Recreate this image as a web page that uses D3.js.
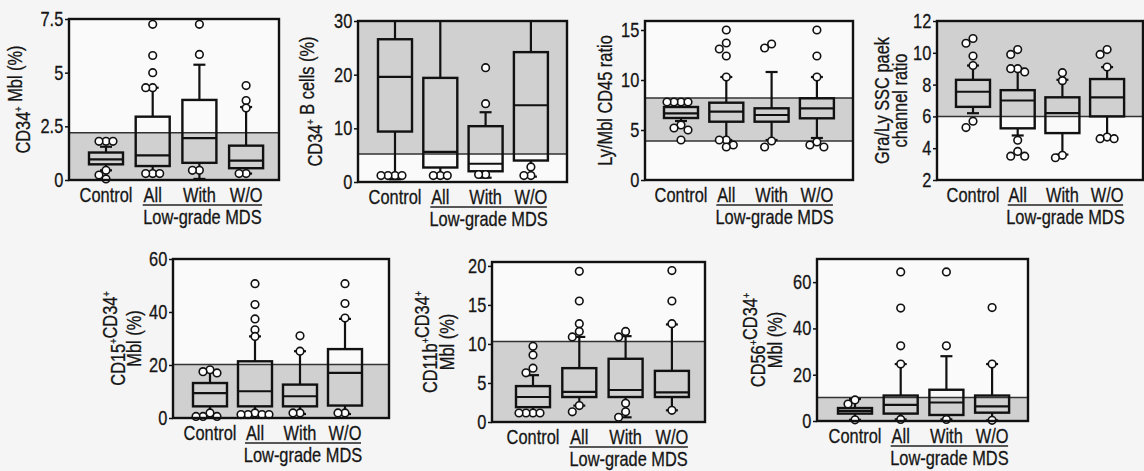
<!DOCTYPE html>
<html>
<head>
<meta charset="utf-8">
<script src="https://cdn.jsdelivr.net/npm/d3@7"></script>
<style>
  body { margin: 0; background: #f5f5f5; }
  svg { display: block; }
  text { font-family: "Liberation Sans Narrow", "Arial Narrow", "Liberation Sans", Arial, sans-serif; fill: #151515; stroke: #151515; stroke-width: 0.3px; }
</style>
</head>
<body>
<div id="fig"></div>
<script>
// categories shared by every panel
const CATEGORIES = ["Control", "All", "With", "W/O"];
const GROUP_LABEL = "Low-grade MDS";

// panel 1: CD34+ Mbl (%)
const P1_Q1 = [0.73, 0.65, 0.8, 0.55];
const P1_MED = [0.96, 1.15, 1.95, 0.9];
const P1_Q3 = [1.28, 2.95, 3.73, 1.6];
const P1_LO = [0.45, 0.3, 0.05, 0.3];
const P1_HI = [1.55, 4.3, 5.37, 3.4];
const P1_OUT = [[1.8, 1.8, 1.8, 0.45, 0.23, 0.05], [7.25, 5.8, 5.0, 4.3, 4.3, 0.3, 0.3, 0.3], [7.25, 5.85, 0.45, 0.45], [4.4, 3.7, 3.35, 0.3, 0.3]];
const P1_TICKS = [0, 2.5, 5, 7.5];

// panel 2: CD34+ B cells (%)
const P2_Q1 = [9.4, 2.7, 2.0, 4.0];
const P2_MED = [19.6, 5.6, 3.4, 14.3];
const P2_Q3 = [26.6, 19.4, 10.4, 24.2];
const P2_LO = [0.5, 0.8, 0.8, 1.0];
const P2_HI = [30, 30, 13.0, 30];
const P2_OUT = [[1.2, 1.2, 1.2, 1.2], [1.2, 1.2, 1.2], [21.3, 14.6, 1.4, 1.4], [2.8, 1.2, 1.2]];
const P2_TICKS = [0, 10, 20, 30];

// panel 3: Ly/Mbl CD45 ratio
const P3_Q1 = [6.2, 5.83, 5.83, 6.17];
const P3_MED = [6.67, 6.83, 6.5, 7.17];
const P3_Q3 = [7.3, 7.73, 7.17, 8.17];
const P3_LO = [5.9, 4.0, 4.0, 4.2];
const P3_HI = [7.6, 10.3, 10.8, 10.3];
const P3_OUT = [[7.8, 7.8, 7.8, 7.8, 5.5, 5.2, 5.0, 4.0], [15, 13.7, 13.1, 12.4, 10.3, 4.0, 4.0, 3.5, 3.3], [13.6, 13.2, 3.9, 3.3], [15, 12.4, 10.3, 3.8, 3.5, 3.3]];
const P3_TICKS = [0, 5, 10, 15];

// panel 4: Gra/Ly SSC peak channel ratio
const P4_Q1 = [6.6, 5.25, 4.95, 6.0];
const P4_MED = [7.55, 7.0, 6.2, 7.2];
const P4_Q3 = [8.3, 7.65, 7.2, 8.35];
const P4_LO = [6.2, 4.8, 3.6, 4.7];
const P4_HI = [9.2, 9.0, 8.3, 9.1];
const P4_OUT = [[10.9, 10.6, 9.8, 9.2, 5.7, 5.3], [10.2, 9.9, 9.0, 9.0, 8.8, 4.5, 3.8, 3.5, 3.5], [8.75, 8.25, 3.55, 3.4], [10.2, 9.9, 9.1, 4.7, 4.6, 4.6]];
const P4_TICKS = [2, 4, 6, 8, 10, 12];

// panel 5: CD15+CD34+ Mbl (%)
const P5_Q1 = [4.4, 4.4, 4.4, 4.7];
const P5_MED = [9.4, 10.1, 8.2, 17.0];
const P5_Q3 = [13.2, 21.4, 12.6, 26.0];
const P5_LO = [1.0, 1.5, 1.5, 1.5];
const P5_HI = [17.5, 30.8, 25.2, 37.4];
const P5_OUT = [[18.2, 17.5, 17, 1.9, 0.6, 0.6, 0.6], [50.7, 42.8, 37.4, 33.3, 30.8, 1.9, 1.3, 1.3, 1.3, 1.3], [31, 25.2, 1.9, 1.9], [50.7, 43.2, 37.7, 1.9, 1.9]];
const P5_TICKS = [0, 20, 40, 60];

// panel 6: CD11b+CD34+ Mbl (%)
const P6_Q1 = [1.9, 3.2, 3.2, 3.2];
const P6_MED = [3.2, 3.85, 4.1, 3.8];
const P6_Q3 = [4.6, 6.9, 8.1, 6.55];
const P6_LO = [1.15, 2.1, 0.6, 1.5];
const P6_HI = [6.0, 10.9, 11.0, 12.5];
const P6_OUT = [[9.7, 8.6, 6.9, 6.3, 1.15, 1.15, 1.15, 1.15], [19.3, 15.5, 12.6, 11.6, 10.9, 2.1, 1.3], [11.6, 10.9, 2.4, 1.3, 0.6], [19.4, 15.5, 12.6, 1.5]];
const P6_TICKS = [0, 5, 10, 15, 20];

// panel 7: CD56+CD34+ Mbl (%)
const P7_Q1 = [3.2, 3.2, 2.6, 3.6];
const P7_MED = [4.4, 7.0, 8.0, 6.3];
const P7_Q3 = [5.6, 11, 13.5, 11];
const P7_LO = [0.5, 0.7, 0.7, 0.3];
const P7_HI = [9.5, 24.6, 28, 24.6];
const P7_OUT = [[9.1, 7.3, 0.5], [64.4, 48.8, 32.5, 24.6, 0.7], [64.4, 32.5, 0.7], [49, 24.6, 0.3]];
const P7_TICKS = [0, 20, 40, 60];

// reference (normal) ranges shaded in each panel
const P1_REF = [0, 2.2];
const P2_REF = [5.2, 30];
const P3_REF = [3.9, 8.2];
const P4_REF = [6.0, 12];
const P5_REF = [0, 20.2];
const P6_REF = [0, 10.3];
const P7_REF = [0, 10.2];

// axis titles, "^" marks a superscript plus
const P1_TITLE = ["CD34^ Mbl (%)"];
const P2_TITLE = ["CD34^ B cells (%)"];
const P3_TITLE = ["Ly/Mbl CD45 ratio"];
const P4_TITLE = ["Gra/Ly SSC paek", "channel ratio"];
const P5_TITLE = ["CD15^CD34^", "Mbl (%)"];
const P6_TITLE = ["CD11b^CD34^", "Mbl (%)"];
const P7_TITLE = ["CD56^CD34^", "Mbl (%)"];

// layout of the panels (pixels)
const PANELS = [
  {left: 69, right: 279, top: 19, bottom: 180, max: 7.5, min: 0, first: 37, step: 46.7, tx: [-46],
   q1: P1_Q1, med: P1_MED, q3: P1_Q3, lo: P1_LO, hi: P1_HI, out: P1_OUT, ticks: P1_TICKS, ref: P1_REF, title: P1_TITLE},
  {left: 358, right: 567, top: 21, bottom: 182, max: 30, min: 0, first: 37, step: 45.3, tx: [-43],
   q1: P2_Q1, med: P2_MED, q3: P2_Q3, lo: P2_LO, hi: P2_HI, out: P2_OUT, ticks: P2_TICKS, ref: P2_REF, title: P2_TITLE},
  {left: 645, right: 853, top: 21, bottom: 180, max: 15.9, min: 0, first: 36, step: 45.3, tx: [-40],
   q1: P3_Q1, med: P3_MED, q3: P3_Q3, lo: P3_LO, hi: P3_HI, out: P3_OUT, ticks: P3_TICKS, ref: P3_REF, title: P3_TITLE},
  {left: 937, right: 1143, top: 21, bottom: 180, max: 12, min: 2, first: 36, step: 44.7, tx: [-55, -37],
   q1: P4_Q1, med: P4_MED, q3: P4_Q3, lo: P4_LO, hi: P4_HI, out: P4_OUT, ticks: P4_TICKS, ref: P4_REF, title: P4_TITLE},
  {left: 173, right: 389, top: 259, bottom: 418, max: 60, min: 0, first: 37, step: 45, tx: [-55, -39],
   q1: P5_Q1, med: P5_MED, q3: P5_Q3, lo: P5_LO, hi: P5_HI, out: P5_OUT, ticks: P5_TICKS, ref: P5_REF, title: P5_TITLE},
  {left: 492, right: 705, top: 262, bottom: 422, max: 20.5, min: 0, first: 41, step: 46.3, tx: [-62, -45],
   q1: P6_Q1, med: P6_MED, q3: P6_Q3, lo: P6_LO, hi: P6_HI, out: P6_OUT, ticks: P6_TICKS, ref: P6_REF, title: P6_TITLE},
  {left: 817, right: 1028, top: 259, bottom: 421, max: 70, min: 0, first: 38, step: 45.7, tx: [-59, -42],
   q1: P7_Q1, med: P7_MED, q3: P7_Q3, lo: P7_LO, hi: P7_HI, out: P7_OUT, ticks: P7_TICKS, ref: P7_REF, title: P7_TITLE}
];

const BOX_W = 34;
const CAP_W = 12;
const R = 3.8;
const FONT = 20;
// no condensed face is installed, so squeeze text horizontally
const SQUEEZE = 0.82;

const svg = d3.select("#fig")
  .append("svg")
    .attr("width", 1144)
    .attr("height", 471);

// write a label that may contain superscript plus signs
function richText(sel, str) {
  str.split("^").forEach((part, i, arr) => {
    sel.append("tspan").text(part);
    if (i < arr.length - 1) {
      sel.append("tspan")
        .attr("font-size", FONT * 0.55)
        .attr("dy", -FONT * 0.38)
        .text("+");
      sel.append("tspan").attr("dy", FONT * 0.38).text("");
    }
  });
}

// horizontal text, condensed
function label(g, x, y, str) {
  return g.append("text")
    .attr("transform", "translate(" + x + "," + y + ") scale(" + SQUEEZE + ",1)")
    .attr("text-anchor", "middle")
    .attr("font-size", FONT)
    .text(str);
}

PANELS.forEach((p) => {
  const g = svg.append("g");
  const y = d3.scaleLinear().domain([p.min, p.max]).range([p.bottom, p.top]);
  const x = d3.scalePoint().domain(CATEGORIES)
    .range([p.left + p.first, p.left + p.first + 3 * p.step]);
  const clamp = (v) => Math.max(p.min, Math.min(p.max, v));

  // plot background and shaded reference range
  g.append("rect")
    .attr("x", p.left).attr("y", p.top)
    .attr("width", p.right - p.left).attr("height", p.bottom - p.top)
    .attr("fill", "#fafafa");
  g.append("rect")
    .attr("x", p.left).attr("y", y(p.ref[1]))
    .attr("width", p.right - p.left).attr("height", y(p.ref[0]) - y(p.ref[1]))
    .attr("fill", "#d0d0d0");
  p.ref.filter((v) => v > p.min && v < p.max).forEach((v) => {
    g.append("line")
      .attr("x1", p.left).attr("x2", p.right)
      .attr("y1", y(v)).attr("y2", y(v))
      .attr("stroke", "#333").attr("stroke-width", 1.5);
  });

  const rows = CATEGORIES.map((c, i) => ({
    cat: c, q1: p.q1[i], med: p.med[i], q3: p.q3[i], lo: p.lo[i], hi: p.hi[i], out: p.out[i]
  }));

  // whiskers
  rows.forEach((d) => {
    const cx = x(d.cat);
    g.append("line")
      .attr("x1", cx).attr("x2", cx)
      .attr("y1", y(d.q3)).attr("y2", y(clamp(d.hi)))
      .attr("stroke", "#111").attr("stroke-width", 2.2);
    g.append("line")
      .attr("x1", cx).attr("x2", cx)
      .attr("y1", y(d.q1)).attr("y2", y(clamp(d.lo)))
      .attr("stroke", "#111").attr("stroke-width", 2.2);
    [d.hi, d.lo].filter((v) => v < p.max).forEach((v) => {
      g.append("line")
        .attr("x1", cx - CAP_W / 2).attr("x2", cx + CAP_W / 2)
        .attr("y1", y(v)).attr("y2", y(v))
        .attr("stroke", "#111").attr("stroke-width", 2.2);
    });
  });

  // boxes and medians
  g.selectAll(".box")
    .data(rows)
    .enter()
    .append("rect")
      .attr("x", (d) => x(d.cat) - BOX_W / 2)
      .attr("y", (d) => y(d.q3))
      .attr("width", BOX_W)
      .attr("height", (d) => y(d.q1) - y(d.q3))
      .attr("fill", "none")
      .attr("stroke", "#111")
      .attr("stroke-width", 2.4);
  g.selectAll(".med")
    .data(rows)
    .enter()
    .append("line")
      .attr("x1", (d) => x(d.cat) - BOX_W / 2)
      .attr("x2", (d) => x(d.cat) + BOX_W / 2)
      .attr("y1", (d) => y(d.med))
      .attr("y2", (d) => y(d.med))
      .attr("stroke", "#111")
      .attr("stroke-width", 2.2);

  // outliers, spread sideways when they would overlap
  rows.forEach((d) => {
    const placed = [];
    d.out.forEach((v) => {
      const cy = y(v);
      const offsets = [0, -7, 7, -14, 14, -21, 21];
      let dx = 0;
      for (const o of offsets) {
        if (placed.every((q) => Math.hypot(q[0] - o, q[1] - cy) > 6.5)) { dx = o; break; }
      }
      placed.push([dx, cy]);
      g.append("circle")
        .attr("cx", x(d.cat) + dx).attr("cy", cy).attr("r", R)
        .attr("fill", "#fff").attr("stroke", "#111").attr("stroke-width", 1.6);
    });
  });

  // frame
  g.append("rect")
    .attr("x", p.left).attr("y", p.top)
    .attr("width", p.right - p.left).attr("height", p.bottom - p.top)
    .attr("fill", "none").attr("stroke", "#111").attr("stroke-width", 2.4);

  // y axis
  const ax = g.append("g")
    .attr("transform", "translate(" + p.left + ",0)")
    .call(d3.axisLeft(y).tickValues(p.ticks).tickSize(4).tickPadding(3).tickFormat(d3.format("")));
  ax.select(".domain").remove();
  ax.selectAll("line").attr("stroke", "#111").attr("stroke-width", 1.5);
  ax.selectAll("text")
    .attr("font-size", FONT)
    .attr("font-family", null)
    .attr("fill", "#151515")
    .attr("transform", "scale(" + SQUEEZE + ",1)");

  // category labels and the low-grade MDS bracket
  CATEGORIES.forEach((c) => {
    label(g, x(c), p.bottom + 22, c);
  });
  const u1 = x("All") - 10;
  const u2 = x("W/O") + 16;
  g.append("line")
    .attr("x1", u1).attr("x2", u2)
    .attr("y1", p.bottom + 25).attr("y2", p.bottom + 25)
    .attr("stroke", "#222").attr("stroke-width", 1.3);
  label(g, (u1 + u2) / 2, p.bottom + 44, GROUP_LABEL);

  // y title
  const cy = (p.top + p.bottom) / 2;
  p.title.forEach((line, i) => {
    const t = g.append("text")
      .attr("transform", "translate(" + (p.left + p.tx[i]) + "," + cy + ") rotate(-90) scale(" + SQUEEZE + ",1)")
      .attr("text-anchor", "middle")
      .attr("dy", "0.35em")
      .attr("font-size", FONT);
    richText(t, line);
  });
});
</script>
</body>
</html>
